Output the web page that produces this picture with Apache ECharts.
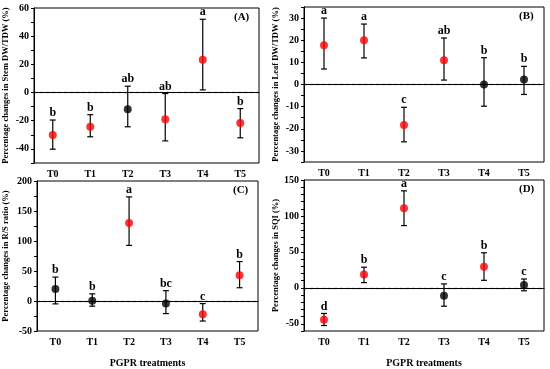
<!DOCTYPE html>
<html><head><meta charset="utf-8">
<script src="https://cdn.jsdelivr.net/npm/echarts@6/dist/echarts.min.js"></script>
<style>html,body{margin:0;padding:0;background:#fff}#c{width:550px;height:369px}</style>
</head><body><div id="c"></div>
<script>
const categories = ['T0','T1','T2','T3','T4','T5'];

const meanA  = [-30.2, -24.3, -11.9, -19.0, 23.2, -21.7];
const upperA = [-19.5, -15.7, 4.5, -0.7, 52.0, -11.4];
const lowerA = [-40.2, -31.4, -24.3, -34.3, 1.9, -32.1];
const lettersA = ['b','b','ab','ab','a','b'];
const redA = [1,1,0,1,1,1];

const meanB  = [17.7, 20.0, -18.3, 11.0, 0.0, 2.3];
const upperB = [30.0, 27.3, -10.3, 21.0, 12.1, 8.2];
const lowerB = [7.0, 12.0, -25.9, 2.0, -9.8, -4.5];
const lettersB = ['a','a','c','ab','b','b'];
const redB = [1,1,1,1,0,0];

const meanC  = [19.9, 0.5, 129.8, -4.3, -22.0, 43.1];
const upperC = [39.9, 11.9, 173.5, 17.2, -4.3, 65.7];
const lowerC = [-4.8, -8.6, 92.7, -21.0, -33.4, 22.1];
const lettersC = ['b','b','a','bc','c','b'];
const redC = [0,0,1,0,1,1];

const meanD  = [-44.2, 18.7, 110.8, -10.9, 29.2, 4.1];
const upperD = [-35.6, 28.7, 134.9, 5.5, 48.8, 12.3];
const lowerD = [-52.4, 7.3, 86.6, -25.5, 10.5, -4.1];
const lettersD = ['d','b','a','c','b','c'];
const redD = [1,1,1,0,1,0];

const panels = [
  {mean:meanA, up:upperA, lo:lowerA, let:lettersA, red:redA, name:'Percentage changes in Stem DW/TDW (%)', tag:'(A)',
   grid:{left:34, top:8, width:225, height:155}, y:{min:-50, max:60, interval:10, step:20, gap:24}, xname:''},
  {mean:meanB, up:upperB, lo:lowerB, let:lettersB, red:redB, name:'Percentage changes in Leaf DW/TDW (%)', tag:'(B)',
   grid:{left:304, top:7, width:240, height:155}, y:{min:-35, max:35, interval:5, step:10, gap:24}, xname:''},
  {mean:meanC, up:upperC, lo:lowerC, let:lettersC, red:redC, name:'Percentage changes in R/S ratio (%)', tag:'(C)',
   grid:{left:37, top:181, width:221, height:153}, y:{min:-50, max:200, interval:25, step:50, gap:27}, xname:'PGPR treatments'},
  {mean:meanD, up:upperD, lo:lowerD, let:lettersD, red:redD, name:'Percentage changes in SQI (%)', tag:'(D)',
   grid:{left:304, top:180, width:240, height:154}, y:{min:-60, max:150, interval:10, step:50, gap:24}, xname:'PGPR treatments'}
];
const FONT = '"Liberation Serif","Times New Roman",serif';
const grids=[], xAxes=[], yAxes=[], series=[], graphics=[];
panels.forEach((p,k)=>{
  grids.push(Object.assign({show:true, borderColor:'#000', borderWidth:1, backgroundColor:'transparent'}, p.grid));
  xAxes.push({type:'category', gridIndex:k, data:categories, boundaryGap:true,
    name:p.xname, nameLocation:'middle', nameGap:27,
    nameTextStyle:{fontFamily:FONT, fontWeight:'bold', fontSize:10, color:'#000'},
    axisLine:{lineStyle:{color:'#000', width:1}},
    axisTick:{alignWithLabel:true, length:3, lineStyle:{color:'#000'}},
    axisLabel:{fontFamily:FONT, fontWeight:'bold', fontSize:10, color:'#000', margin:6},
    splitLine:{show:false}});
  const step = p.y.step;
  yAxes.push({type:'value', gridIndex:k, min:p.y.min, max:p.y.max, interval:p.y.interval,
    name:p.name, nameLocation:'middle', nameGap:p.y.gap, nameRotate:90,
    nameTextStyle:{fontFamily:FONT, fontWeight:'bold', fontSize:8.5, color:'#000'},
    axisLine:{show:true, lineStyle:{color:'#000', width:1}},
    axisTick:{show:true, length:3, lineStyle:{color:'#000'}},
    axisLabel:{fontFamily:FONT, fontWeight:'bold', fontSize:10, color:'#000', margin:5,
      showMinLabel:true, showMaxLabel:true,
      formatter: v => (Math.abs(v % step) < 1e-9 ? String(v) : '')},
    splitLine:{show:false}});
  const ebData = categories.map((c,i)=>[i, p.lo[i], p.up[i]]);
  const lets = p.let;
  series.push({type:'custom', xAxisIndex:k, yAxisIndex:k, data:ebData, z:2, silent:true,
    renderItem:(params, api)=>{
      const x = api.value(0);
      const lo = api.coord([x, api.value(1)]);
      const hi = api.coord([x, api.value(2)]);
      const w = 3;
      const st = {stroke:'#000', lineWidth:1.2};
      return {type:'group', children:[
        {type:'line', shape:{x1:hi[0], y1:hi[1], x2:lo[0], y2:lo[1]}, style:st},
        {type:'line', shape:{x1:hi[0]-w, y1:hi[1], x2:hi[0]+w, y2:hi[1]}, style:st},
        {type:'line', shape:{x1:lo[0]-w, y1:lo[1], x2:lo[0]+w, y2:lo[1]}, style:st},
        {type:'text', x:hi[0], y:hi[1]-1, style:{text:lets[params.dataIndex], fill:'#000',
          font:'bold 12px ' + FONT, align:'center', verticalAlign:'bottom'}}
      ]};
    }});
  series.push({type:'scatter', xAxisIndex:k, yAxisIndex:k, z:3, symbol:'circle', symbolSize:8,
    data:categories.map((c,i)=>({value:[i, p.mean[i]], itemStyle:{color:p.red[i]?'#ff0000':'#000000'}})),
    markLine:{silent:true, symbol:'none', label:{show:false}, z:1,
      lineStyle:{color:'#000', type:[3,3], width:1.2}, data:[{yAxis:0}]}});
  graphics.push({type:'text', left:p.grid.left + p.grid.width - 25, top:p.grid.top + 4,
    style:{text:p.tag, font:'bold 11px ' + FONT, fill:'#000'}});
});
const chart = echarts.init(document.getElementById('c'), null, {renderer:'canvas'});
chart.setOption({animation:false, backgroundColor:'#fff', grid:grids, xAxis:xAxes, yAxis:yAxes, series:series, graphic:graphics});
</script></body></html>
